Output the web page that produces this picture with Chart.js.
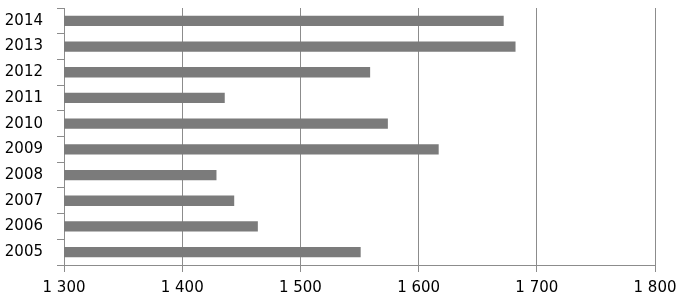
<!DOCTYPE html>
<html>
<head>
<meta charset="utf-8">
<script src="https://cdn.jsdelivr.net/npm/chart.js@4/dist/chart.umd.min.js"></script>
<style>
    body { margin: 0; background: #fff; }
    #wrap { width: 681px; height: 299px; }
</style>
</head>
<body>
<div id="wrap"><canvas id="barChart"></canvas></div>
<script>
var years = ['2005', '2006', '2007', '2008', '2009', '2010', '2011', '2012', '2013', '2014'];
var values = [1551, 1464, 1444, 1429, 1617, 1574, 1436, 1559, 1682, 1672];
var xTicks = [1300, 1400, 1500, 1600, 1700, 1800];

var gridGray = '#8c8c8c';

var ctx = document.getElementById('barChart');
var myBarChart = new Chart(ctx, {
    type: 'bar',
    data: {
        labels: years,
        datasets: [{
            data: values,
            backgroundColor: '#7b7b7b',
            borderWidth: 0,
            barPercentage: 0.4,
            categoryPercentage: 1
        }]
    },
    options: {
        indexAxis: 'y',
        responsive: true,
        maintainAspectRatio: false,
        animation: false,
        layout: { padding: 0 },
        plugins: {
            legend: { display: false },
            tooltip: { enabled: false }
        },
        scales: {
            x: {
                min: xTicks[0],
                max: xTicks[xTicks.length - 1],
                afterBuildTicks: function (scale) {
                    scale.ticks = xTicks.map(function (v) { return { value: v }; });
                },
                grid: { color: gridGray, lineWidth: 1, tickLength: 7, drawTicks: true },
                border: { color: gridGray },
                ticks: {
                    color: '#000',
                    padding: 7,
                    font: { family: 'DejaVu Sans', size: 15 },
                    callback: function (v) {
                        var s = String(v);
                        return s.charAt(0) + ' ' + s.slice(1);
                    }
                },
                afterFit: function (scale) {
                    scale.height = 34;
                    scale.paddingRight = 26;
                }
            },
            y: {
                reverse: true,
                grid: { drawOnChartArea: false, color: gridGray, tickLength: 7 },
                border: { color: gridGray },
                ticks: {
                    color: '#000',
                    padding: 14,
                    font: { family: 'DejaVu Sans', size: 15 }
                },
                afterFit: function (scale) {
                    scale.width = 64;
                    scale.paddingTop = 8;
                }
            }
        }
    }
});
</script>
</body>
</html>
